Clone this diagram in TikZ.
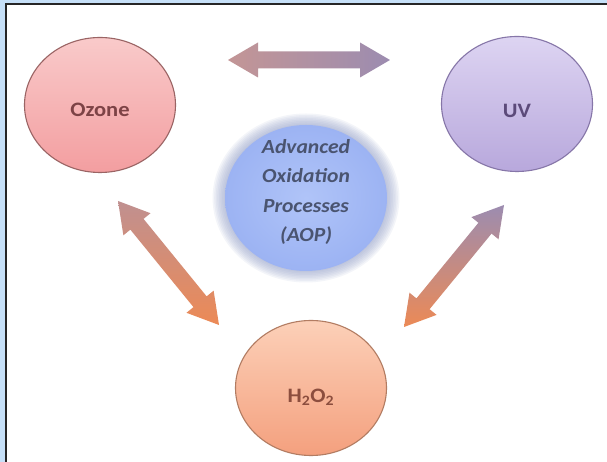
\documentclass[tikz,border=0pt]{standalone}
\usepackage{fontspec}
\setmainfont{Carlito}
\usetikzlibrary{calc,shapes.geometric}
\definecolor{bluestrip}{HTML}{C6E0F8}
\definecolor{ozTop}{HTML}{F9CACA}
\definecolor{ozBot}{HTML}{F39EA0}
\definecolor{ozLine}{HTML}{9A6464}
\definecolor{ozText}{HTML}{7D4346}
\definecolor{uvTop}{HTML}{DDD4F2}
\definecolor{uvBot}{HTML}{B8A8DC}
\definecolor{uvLine}{HTML}{8676A8}
\definecolor{uvText}{HTML}{5C4A7A}
\definecolor{hTop}{HTML}{FCD0B8}
\definecolor{hBot}{HTML}{F4A07E}
\definecolor{hLine}{HTML}{B27C62}
\definecolor{hText}{HTML}{8C4E3E}
\definecolor{aopIn}{HTML}{B0C4F8}
\definecolor{aopMid}{HTML}{9CB3F3}
\definecolor{aopEdge}{HTML}{9AA6CC}
\definecolor{aopText}{HTML}{4A5470}
\definecolor{arMauve}{HTML}{C09090}
\definecolor{arOrange}{HTML}{EC8A56}
\definecolor{arPurple}{HTML}{9C8CB0}
\newcommand\fatarrow[3]{%
  \path[#3] (#1)
   -- ($(#1)!30pt!(#2)!17.5pt!90:(#2)$)
   -- ($(#1)!30pt!(#2)!8.5pt!90:(#2)$)
   -- ($(#2)!30pt!(#1)!8.5pt!-90:(#1)$)
   -- ($(#2)!30pt!(#1)!17.5pt!-90:(#1)$)
   -- (#2)
   -- ($(#2)!30pt!(#1)!17.5pt!90:(#1)$)
   -- ($(#2)!30pt!(#1)!8.5pt!90:(#1)$)
   -- ($(#1)!30pt!(#2)!8.5pt!-90:(#2)$)
   -- ($(#1)!30pt!(#2)!17.5pt!-90:(#2)$)
   -- cycle;}
\tikzset{
  bubble/.style={ellipse, minimum width=151pt, minimum height=135pt, inner sep=0pt, line width=1.1pt},
  label19/.style={font=\fontsize{20.5}{24}\selectfont\bfseries, xscale=1.1, inner sep=0pt},
}
\begin{document}
\begin{tikzpicture}[x=1pt,y=1pt]
\useasboundingbox (0,0) rectangle (607,462);
\fill[bluestrip] (0,0) rectangle (607,462);
\fill[white] (6,0) rectangle (607,458);
\draw[line width=1.8pt, black!85] (6,0) -- (6,458) -- (607,458);

% AOP halo and body
\coordinate (aopc) at (306,264);
\foreach \k in {0,...,9}
  \fill[aopEdge, opacity=0.11] (aopc) ellipse ({79+1.6*\k} and {71+1.5*\k});
\node[ellipse, minimum width=162pt, minimum height=146pt, inner sep=0pt,
      inner color=aopIn, outer color=aopMid] (aop) at (aopc) {};
\node[font=\fontsize{20}{29.5}\selectfont\bfseries\itshape, text=aopText, align=center, xscale=1.08] (aopt) at (306,270)
  {Advanced\\Oxidation\\Processes\\(AOP)};

% circles
\node[bubble, draw=ozLine, top color=ozTop, bottom color=ozBot] (oz) at (100,357) {};
\node[label19, text=ozText] (ozt) at ([yshift=-5pt]oz.center) {Ozone};
\node[bubble, draw=uvLine, top color=uvTop, bottom color=uvBot] (uv) at (517,358) {};
\node[label19, text=uvText] (uvt) at ([yshift=-7pt]uv.center) {UV};
\node[bubble, draw=hLine, top color=hTop, bottom color=hBot] (h2) at (311,74) {};
\node[label19, text=hText] (h2t) at ([yshift=-9pt]h2.center) {H\textsubscript{2}O\textsubscript{2}};

% arrows
\coordinate (t1) at (228,402);
\coordinate (t2) at (390,402);
\coordinate (l1) at (118,261);
\coordinate (l2) at (219,137);
\coordinate (r1) at (504,257);
\coordinate (r2) at (404,135);
\fatarrow{t1}{t2}{left color=arMauve!95!white, right color=arPurple}
\fatarrow{l1}{l2}{top color=arMauve, bottom color=arOrange}
\fatarrow{r1}{r2}{top color=arPurple, bottom color=arOrange}
\end{tikzpicture}
\end{document}
